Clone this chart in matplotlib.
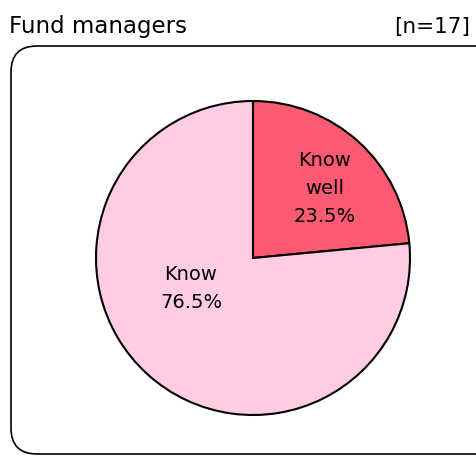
import matplotlib
matplotlib.use("Agg")
import matplotlib.pyplot as plt
from matplotlib.patches import FancyBboxPatch

categories = ["Know well", "Know"]
values = [23.5, 76.5]
label_texts = ["Know\nwell\n23.5%", "Know\n76.5%"]
colors = ["#FB5A72", "#FFCCE4"]
title = "Fund managers"
n_label = "[n=17]"

W, H = 477, 457
fig = plt.figure(figsize=(W / 100, H / 100), dpi=100)
fig.patch.set_facecolor("white")

# rounded frame
frame_ax = fig.add_axes([0, 0, 1, 1])
frame_ax.set_xlim(0, W)
frame_ax.set_ylim(H, 0)
frame_ax.axis("off")
box = FancyBboxPatch((11, 46), 500, 408, boxstyle="round,pad=0,rounding_size=26",
                     fill=False, edgecolor="black", linewidth=1.2)
frame_ax.add_patch(box)
frame_ax.text(9, 33, title, fontsize=16.5, ha="left", va="baseline", family="DejaVu Sans")
frame_ax.text(470, 33, n_label, fontsize=15.5, ha="right", va="baseline", family="DejaVu Sans")

# pie axes: center (253, 258), radius 157
cx, cy, r = 253, 258, 157
ax = fig.add_axes([(cx - r) / W, (H - cy - r) / H, 2 * r / W, 2 * r / H])
wedges, _ = ax.pie(values, colors=colors, startangle=90, counterclock=False,
                   radius=1.0, wedgeprops=dict(edgecolor="black", linewidth=1.5))
ax.set_xlim(-1, 1)
ax.set_ylim(-1, 1)
ax.set_aspect("auto")

# label positions (data coords within pie axes)
label_pos = [((325 - cx) / r, (cy - 189) / r), ((191 - cx) / r, (cy - 288) / r)]
for (x, y), t in zip(label_pos, label_texts):
    ax.text(x, y, t, ha="center", va="center", fontsize=14, linespacing=1.6,
            family="DejaVu Sans")

fig.savefig("out.png", dpi=100)
